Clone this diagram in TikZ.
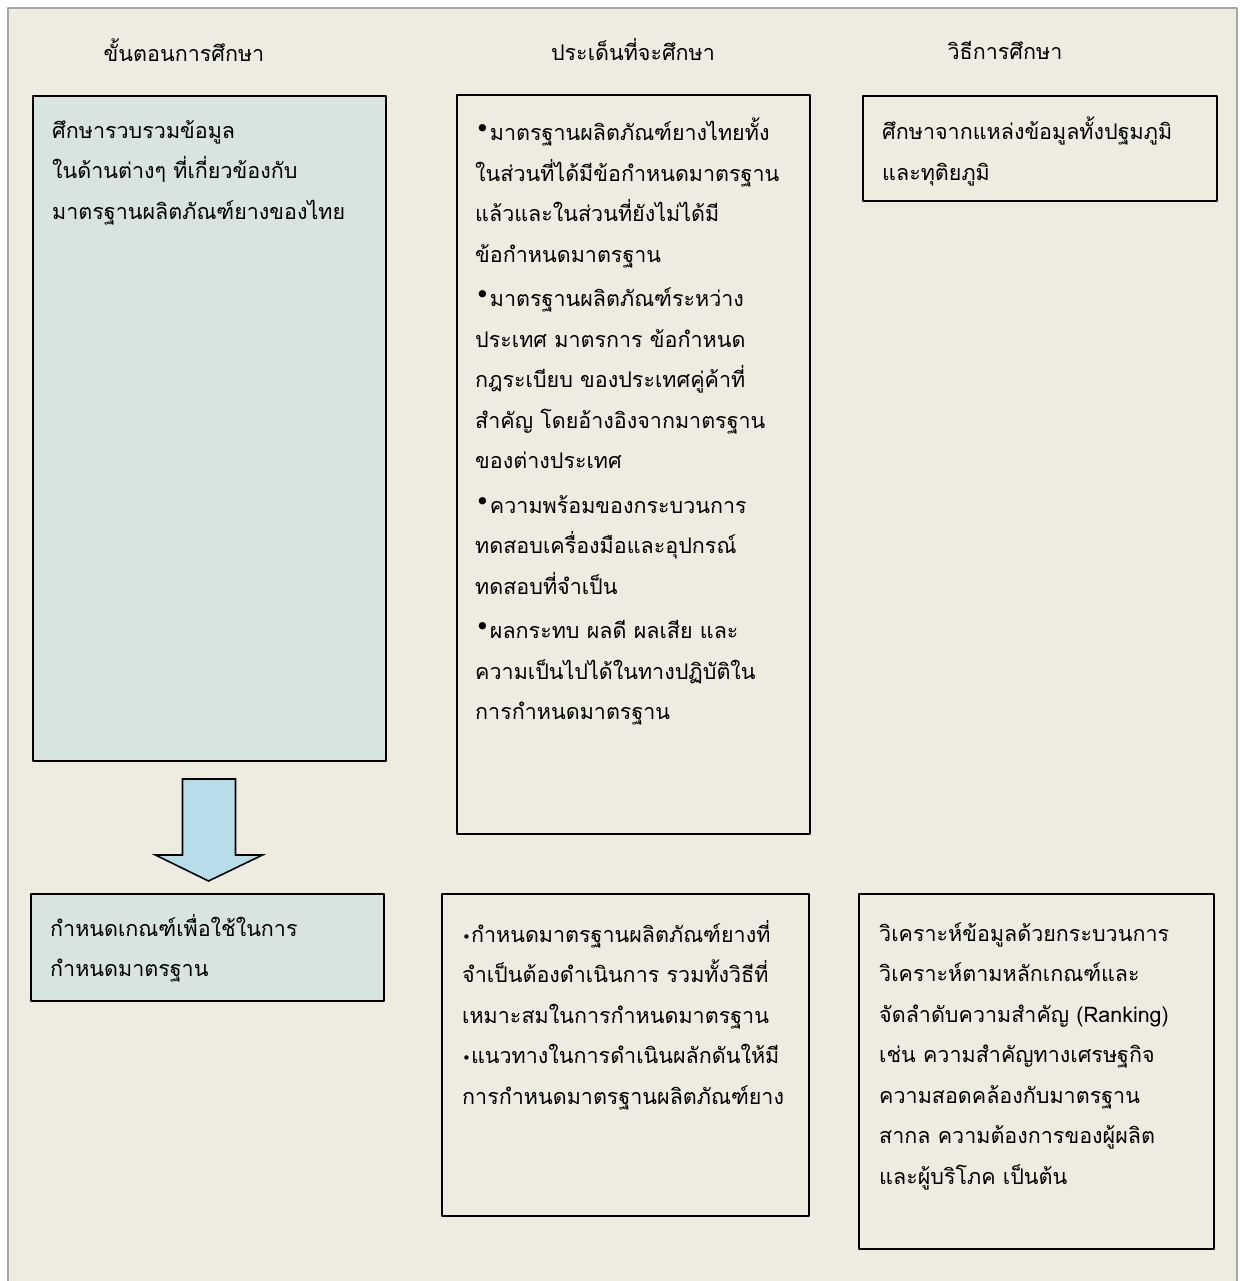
\documentclass[tikz,border=0pt]{standalone}
\usepackage{fontspec}
\newfontfamily\thai[Script=Thai]{Loma}
\newfontfamily\sym{DejaVu Sans}
\usetikzlibrary{positioning,calc}
\definecolor{bgtan}{HTML}{EEECE1}
\definecolor{boxblue}{HTML}{D7E4E1}
\definecolor{arrowblue}{HTML}{B7DEE8}
\definecolor{framegray}{HTML}{A6A6A6}
\tikzset{
  box/.style={draw=black, line width=2pt, fill=bgtan, anchor=north west, inner sep=0pt},
  bluebox/.style={box, fill=boxblue},
  txt/.style={anchor=north west, align=left, inner sep=0pt, font=\thai\fontsize{21.5}{40.5}\selectfont},
  head/.style={inner sep=0pt, font=\thai\fontsize{21.5}{25}\selectfont},
}
\newcommand{\bul}{\raisebox{3pt}{\sym\fontsize{25}{25}\selectfont •}}
\newcommand{\sbul}{{\sym\fontsize{15}{15}\selectfont •}}
\begin{document}
\begin{tikzpicture}[x=1pt,y=-1pt,line join=round]
\useasboundingbox (0,0) rectangle (1239,1281);
\clip (0,0) rectangle (1239,1281);
% frame
\fill[bgtan] (8,8) rectangle (1237,1290);
\draw[framegray, line width=2pt] (8,1290) -- (8,8) -- (1237,8) -- (1237,1290);
% column heads
\node[head] (hstep) at (184,50) {ขั้นตอนการศึกษา};
\node[head] (hissue) at (633,50) {ประเด็นที่จะศึกษา};
\node[head] (hmethod) at (1005,50) {วิธีการศึกษา};
% top row
\node[bluebox, minimum width=353pt, minimum height=665pt] (study) at (32,95) {};
\node[box, minimum width=353pt, minimum height=739pt] (issues) at (456,94) {};
\node[box, minimum width=354pt, minimum height=105pt] (method) at (862,95) {};
\node[txt] (studytxt) at ($(study.north west)+(20,25)$) {ศึกษารวบรวมข้อมูล\\ในด้านต่างๆ ที่เกี่ยวข้องกับ\\มาตรฐานผลิตภัณฑ์ยางของไทย};
\node[txt] (issuestxt) at ($(issues.north west)+(19,24)$) {\bul มาตรฐานผลิตภัณฑ์ยางไทยทั้ง\\ในส่วนที่ได้มีข้อกำหนดมาตรฐาน\\แล้วและในส่วนที่ยังไม่ได้มี\\ข้อกำหนดมาตรฐาน\\[4pt]
\bul มาตรฐานผลิตภัณฑ์ระหว่าง\\ประเทศ มาตรการ ข้อกำหนด\\กฎระเบียบ ของประเทศคู่ค้าที่\\สำคัญ โดยอ้างอิงจากมาตรฐาน\\ของต่างประเทศ\\[4pt]
\bul ความพร้อมของกระบวนการ\\ทดสอบเครื่องมือและอุปกรณ์\\ทดสอบที่จำเป็น\\[4pt]
\bul ผลกระทบ ผลดี ผลเสีย และ\\ความเป็นไปได้ในทางปฏิบัติใน\\การกำหนดมาตรฐาน};
\node[txt] (methodtxt) at ($(method.north west)+(20,22)$) {ศึกษาจากแหล่งข้อมูลทั้งปฐมภูมิ\\และทุติยภูมิ};
% arrow down
\draw[line width=1.6pt, fill=arrowblue, line join=miter]
  ($(study.south)+(-27,17)$) -- ++(53,0) -- ++(0,76) -- ++(27,0)
  -- ($(study.south)+(-1,119)$) -- ($(study.south)+(-54,93)$) -- ++(27,0) -- cycle;
% bottom row
\node[bluebox, minimum width=353pt, minimum height=107pt] (criteria) at (30,893) {};
\node[box, minimum width=367pt, minimum height=322pt] (standard) at (441,893) {};
\node[box, minimum width=355pt, minimum height=355pt] (analysis) at (858,893) {};
\node[txt] (criteriatxt) at ($(criteria.north west)+(20,21)$) {กำหนดเกณฑ์เพื่อใช้ในการ\\กำหนดมาตรฐาน};
\node[txt] (standardtxt) at ($(standard.north west)+(21,27)$) {\sbul กำหนดมาตรฐานผลิตภัณฑ์ยางที่\\จำเป็นต้องดำเนินการ รวมทั้งวิธีที่\\เหมาะสมในการกำหนดมาตรฐาน\\\sbul แนวทางในการดำเนินผลักดันให้มี\\การกำหนดมาตรฐานผลิตภัณฑ์ยาง};
\node[txt] (analysistxt) at ($(analysis.north west)+(21,29)$) {วิเคราะห์ข้อมูลด้วยกระบวนการ\\วิเคราะห์ตามหลักเกณฑ์และ\\จัดลำดับความสำคัญ (Ranking)\\เช่น ความสำคัญทางเศรษฐกิจ\\ความสอดคล้องกับมาตรฐาน\\สากล ความต้องการของผู้ผลิต\\และผู้บริโภค เป็นต้น};
\end{tikzpicture}
\end{document}
